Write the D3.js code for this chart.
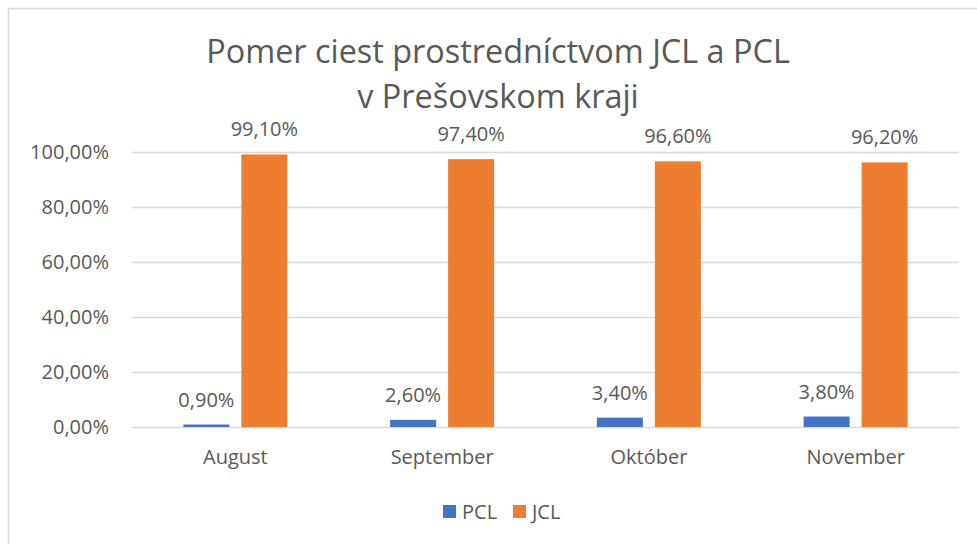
<!DOCTYPE html>
<html>
<head>
<meta charset="utf-8">
<script src="https://cdn.jsdelivr.net/npm/d3@7"></script>
<style>
  body { margin: 0; background: #fff; }
  svg { display: block; font-family: 'Open Sans', sans-serif; }
</style>
</head>
<body>
<div id="chart"></div>
<script>
const months = ['August', 'September', 'Október', 'November']
const seriesNames = ['PCL', 'JCL']
const pclValues = [0.009, 0.026, 0.034, 0.038]
const jclValues = [0.991, 0.974, 0.966, 0.962]
const yTicks = [0, 0.2, 0.4, 0.6, 0.8, 1.0]
const titleLines = ['Pomer ciest prostredníctvom JCL a PCL', 'v Prešovskom kraji']

const width = 977
const height = 544
const margin = { top: 152, right: 18, bottom: 117, left: 132 }
const colors = { PCL: '#4472C4', JCL: '#ED7D31' }
const textColor = '#595959'

const rows = months.map((m, i) => ({ month: m, PCL: pclValues[i], JCL: jclValues[i] }))

const svg = d3.select('#chart').append('svg')
  .attr('width', width)
  .attr('height', height)

// chart border (only left and top are in view)
svg.append('path')
  .attr('d', `M8.5,${height}V8.5H${width}`)
  .attr('fill', 'none')
  .attr('stroke', '#d9d9d9')
  .attr('stroke-width', 1.5)

const x0 = d3.scaleBand()
  .domain(months)
  .range([margin.left, width - margin.right])

const x1 = d3.scaleBand()
  .domain(seriesNames)
  .range([0, x0.bandwidth()])
  .paddingInner(0.207)
  .paddingOuter(0.886)

const y = d3.scaleLinear()
  .domain([0, 1])
  .range([height - margin.bottom, margin.top])

const pct = d => d3.format('.2f')(d * 100).replace('.', ',') + '%'

// gridlines + y labels
const yAxis = g => g
  .attr('transform', `translate(${margin.left},0)`)
  .call(d3.axisLeft(y).tickValues(yTicks).tickFormat(pct)
    .tickSize(-(width - margin.left - margin.right)).tickPadding(23))
  .call(g => g.select('.domain').remove())
  .call(g => g.selectAll('.tick line').attr('stroke', '#d9d9d9').attr('stroke-width', 1.5))
  .call(g => g.selectAll('.tick text')
    .attr('fill', textColor)
    .style('font-size', '20px')
    .style('font-family', "'Open Sans', sans-serif"))

svg.append('g').call(yAxis)

const groups = svg.append('g')
  .selectAll('g')
  .data(rows)
  .join('g')
  .attr('transform', d => `translate(${x0(d.month)},0)`)

groups.selectAll('rect')
  .data(d => seriesNames.map(k => ({ key: k, value: d[k] })))
  .join('rect')
  .attr('x', d => x1(d.key))
  .attr('width', x1.bandwidth())
  .attr('y', d => y(d.value))
  .attr('height', d => y(0) - y(d.value))
  .attr('fill', d => colors[d.key])

// data labels, outside end
groups.selectAll('text.label')
  .data(d => seriesNames.map(k => ({ key: k, value: d[k] })))
  .join('text')
  .attr('class', 'label')
  .attr('x', d => x1(d.key) + x1.bandwidth() / 2)
  .attr('y', d => y(d.value) - 18)
  .attr('text-anchor', 'middle')
  .attr('fill', textColor)
  .style('font-size', '20px')
  .text(d => pct(d.value))

// x axis labels
const xAxis = g => g
  .attr('transform', `translate(0,${height - margin.bottom})`)
  .call(d3.axisBottom(x0).tickSize(0).tickPadding(23))
  .call(g => g.select('.domain').remove())
  .call(g => g.selectAll('.tick text')
    .attr('fill', textColor)
    .style('font-size', '20px')
    .style('font-family', "'Open Sans', sans-serif"))

svg.append('g').call(xAxis)

// title
svg.append('text')
  .attr('text-anchor', 'middle')
  .attr('fill', textColor)
  .style('font-size', '32.4px')
  .selectAll('tspan')
  .data(titleLines)
  .join('tspan')
  .attr('x', 498)
  .attr('y', (d, i) => 63 + i * 45)
  .text(d => d)

// legend
const legend = svg.append('g')
  .attr('transform', 'translate(443,505)')

const legendItems = legend.selectAll('g')
  .data(seriesNames)
  .join('g')
  .attr('transform', (d, i) => `translate(${i * 70},0)`)

legendItems.append('rect')
  .attr('width', 13)
  .attr('height', 13)
  .attr('fill', d => colors[d])

legendItems.append('text')
  .attr('x', 19)
  .attr('y', 14)
  .attr('fill', textColor)
  .style('font-size', '20px')
  .text(d => d)
</script>
</body>
</html>
